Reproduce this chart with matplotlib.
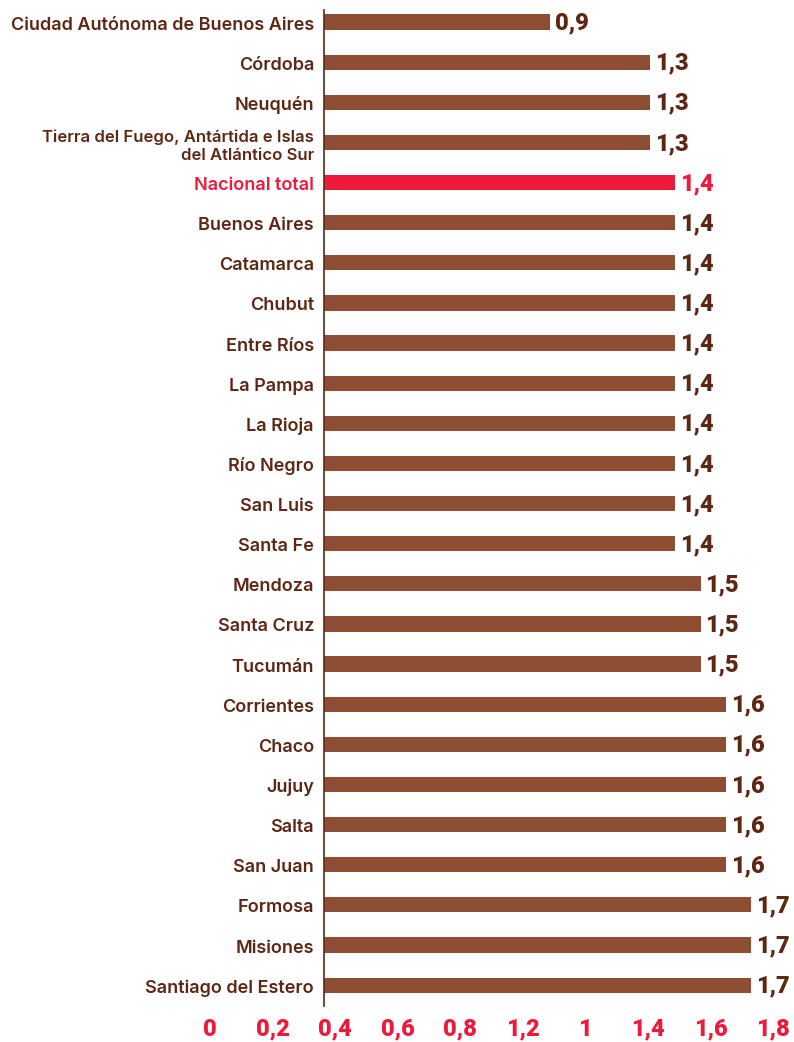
import matplotlib
matplotlib.use("Agg")
import matplotlib.pyplot as plt
from matplotlib.transforms import offset_copy

categories = [
    "Ciudad Autónoma de Buenos Aires", "Córdoba", "Neuquén",
    "Tierra del Fuego, Antártida e Islas\ndel Atlántico Sur", "Nacional total",
    "Buenos Aires", "Catamarca", "Chubut", "Entre Ríos", "La Pampa", "La Rioja",
    "Río Negro", "San Luis", "Santa Fe", "Mendoza", "Santa Cruz", "Tucumán",
    "Corrientes", "Chaco", "Jujuy", "Salta", "San Juan", "Formosa", "Misiones",
    "Santiago del Estero",
]
values = [0.9, 1.3, 1.3, 1.3, 1.4, 1.4, 1.4, 1.4, 1.4, 1.4, 1.4, 1.4, 1.4, 1.4,
          1.5, 1.5, 1.5, 1.6, 1.6, 1.6, 1.6, 1.6, 1.7, 1.7, 1.7]
highlight = "Nacional total"
tick_labels = ["0", "0,2", "0,4", "0,6", "0,8", "1,2", "1", "1,4", "1,6", "1,8"]

BROWN = "#8D4E33"
DARK = "#5E2714"
RED = "#EE1A3B"

W, H = 794, 1042
fig = plt.figure(figsize=(W / 100, H / 100), dpi=100)

left_px, top_px, bottom_px = 324, 10, 1006
ax = fig.add_axes([left_px / W, 1 - bottom_px / H, (W - left_px) / W, (bottom_px - top_px) / H])
n = len(categories)
ys = list(range(n))
colors = [RED if c == highlight else BROWN for c in categories]
ax.barh(ys, values, height=0.38, color=colors, zorder=2)
ax.set_xlim(0, (W - left_px) / 251)
ax.set_ylim(n - 1 + 0.52, -0.3)

for s in ["top", "right", "bottom"]:
    ax.spines[s].set_visible(False)
ax.spines["left"].set_color(DARK)
ax.spines["left"].set_linewidth(1.2)
ax.set_xticks([])
ax.set_yticks([])

lab_family = ["Inter", "DejaVu Sans"]
val_font = dict(family=["Roboto", "DejaVu Sans"], fontweight="black", fontsize=17)

for y, c, v in zip(ys, categories, values):
    col = RED if c == highlight else DARK
    multi = "\n" in c
    tr = offset_copy(ax.transData, fig=fig, x=-10, y=-4 if multi else -3, units="dots")
    ax.text(0, y, c, transform=tr, ha="right", va="center", color=col,
            linespacing=1.2, family=lab_family, fontweight="semibold",
            fontsize=12 if multi else 13)
    tr2 = offset_copy(ax.transData, fig=fig, x=5, y=-1, units="dots")
    ax.text(v, y, f"{v:.1f}".replace(".", ","), transform=tr2, ha="left",
            va="center", color=col, **val_font)

# bottom tick label row
tax = fig.add_axes([210 / W, 1 - 1040 / H, (773 - 210) / W, 20 / H])
tax.set_xlim(0, len(tick_labels) - 1)
tax.set_ylim(0, 1)
for s in tax.spines.values():
    s.set_visible(False)
tax.set_yticks([])
tax.set_xticks(range(len(tick_labels)))
tax.set_xticklabels(tick_labels, color=RED, **val_font)
tax.tick_params(axis="x", length=0, pad=-16)
tax.patch.set_alpha(0)

fig.savefig("out.png", dpi=100, facecolor="white")
